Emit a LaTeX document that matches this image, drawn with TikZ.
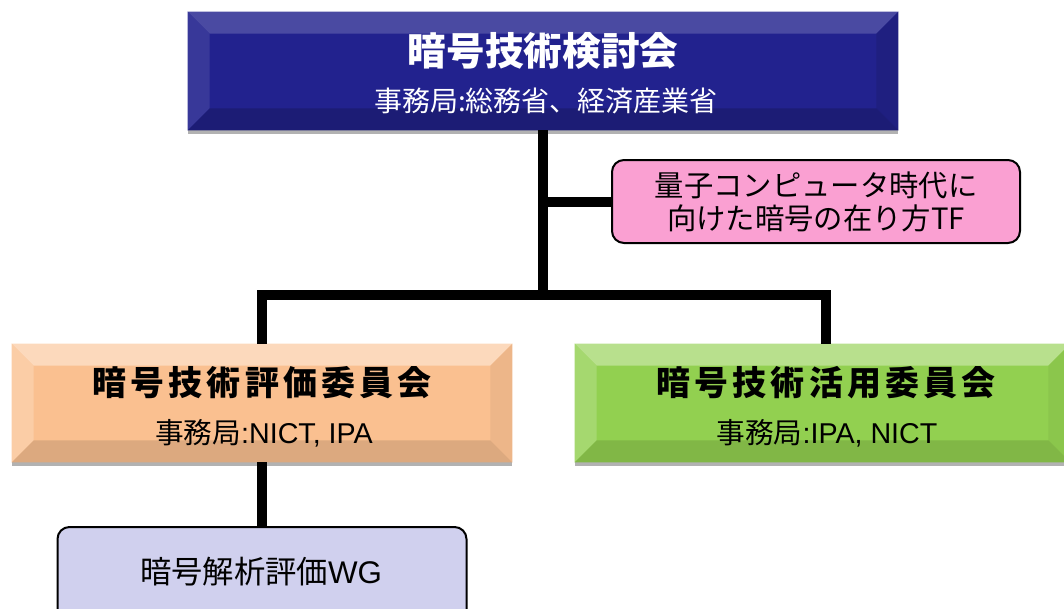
\documentclass[tikz,border=0pt]{standalone}
\usepackage{fontspec}
\newfontfamily\jp{Noto Sans CJK JP}
\newfontfamily\lat{Liberation Sans}
\newfontfamily\jpspaced[LetterSpace=12]{Noto Sans CJK JP}
\usetikzlibrary{shadows,calc}
\definecolor{navy}{RGB}{34,34,142}
\definecolor{peach}{RGB}{250,192,144}
\definecolor{lime}{RGB}{146,208,80}
\definecolor{pinkbox}{RGB}{250,160,210}
\definecolor{lav}{RGB}{208,208,238}
\def\bv{22}
\newcommand\bevelfaces[5]{%
  \fill[#2] (#1.north west) -- (#1.north east) -- ($(#1.north east)+(-\bv,\bv)$) -- ($(#1.north west)+(\bv,\bv)$) -- cycle;
  \fill[#3] (#1.north west) -- ($(#1.north west)+(\bv,\bv)$) -- ($(#1.south west)+(\bv,-\bv)$) -- (#1.south west) -- cycle;
  \fill[#4] (#1.north east) -- ($(#1.north east)+(-\bv,\bv)$) -- ($(#1.south east)+(-\bv,-\bv)$) -- (#1.south east) -- cycle;
  \fill[#5] (#1.south west) -- ($(#1.south west)+(\bv,-\bv)$) -- ($(#1.south east)+(-\bv,-\bv)$) -- (#1.south east) -- cycle;
}
\tikzset{
  bevelbox/.style={draw=none, inner sep=0pt, minimum height=118*0.75pt,
    drop shadow={shadow xshift=0pt, shadow yshift=-3pt, opacity=0.3, fill=black}},
  roundbox/.style={draw=black, line width=1.5pt, rounded corners=9pt, inner sep=0pt},
  conn/.style={line width=7.5pt, line join=miter, draw=black},
  whitetitle/.style={text=white, font=\jp\bfseries\fontsize{29}{33}\selectfont},
  whitesub/.style={text=white, font=\jp\fontsize{21}{25}\selectfont},
  blacktitle/.style={text=black, font=\jpspaced\bfseries\fontsize{25.5}{29}\selectfont},
  blacksub/.style={text=black, font=\jp\fontsize{21.5}{25}\selectfont},
}
\begin{document}
\begin{tikzpicture}[x=0.75pt, y=-0.75pt]
\useasboundingbox (0,0) rectangle (1064,608);
\clip (0,0) rectangle (1064,608);

% boxes
\node[bevelbox, fill=navy, minimum width=710*0.75pt] (top) at (543,71) {};
\bevelfaces{top}{navy!82!white}{navy!90!white}{navy!90!black}{navy!82!black}
\node[whitetitle] (toptitle) at (543,51) {暗号技術検討会};
\node[whitesub] (topsub) at (546,101) {事務局:総務省、経済産業省};

\node[roundbox, fill=pinkbox, minimum width=408*0.75pt, minimum height=83*0.75pt,
      align=center, font=\jp\fontsize{22}{24.75}\selectfont] (tf) at (816,201.5)
      {量子コンピュータ時代に\\向けた暗号の在り方TF};

\node[bevelbox, fill=peach, minimum width=500*0.75pt] (eval) at (262,403) {};
\bevelfaces{eval}{peach!60!white}{peach!80!white}{peach!95!black}{peach!88!black}
\node[blacktitle] (evaltitle) at (262,383) {暗号技術評価委員会};
\node[blacksub] (evalsub) at (264,433) {事務局{\lat :NICT, IPA}};

\node[bevelbox, fill=lime, minimum width=495*0.75pt] (use) at (822.5,403) {};
\bevelfaces{use}{lime!65!white}{lime!82!white}{lime!95!black}{lime!88!black}
\node[blacktitle] (usetitle) at (826,383) {暗号技術活用委員会};
\node[blacksub] (usesub) at (827,433) {事務局{\lat :IPA, NICT}};

\node[roundbox, fill=lav, minimum width=409*0.75pt, minimum height=104*0.75pt] (wg) at (262,579) {};
\node[font=\jp\fontsize{23.5}{26}\selectfont] (wgtext) at (261,572) {暗号解析評価{\lat WG}};

% connectors
\coordinate (junc) at (543,295);
\coordinate (usetop) at (826,344);
\draw[conn] (top.south) -- (junc);
\draw[conn] (eval.north) |- (junc) -| (usetop);
\draw[conn] (tf.west) -- (tf.west -| top.south);
\draw[conn] (eval.south) -- (wg.north);
\end{tikzpicture}
\end{document}
